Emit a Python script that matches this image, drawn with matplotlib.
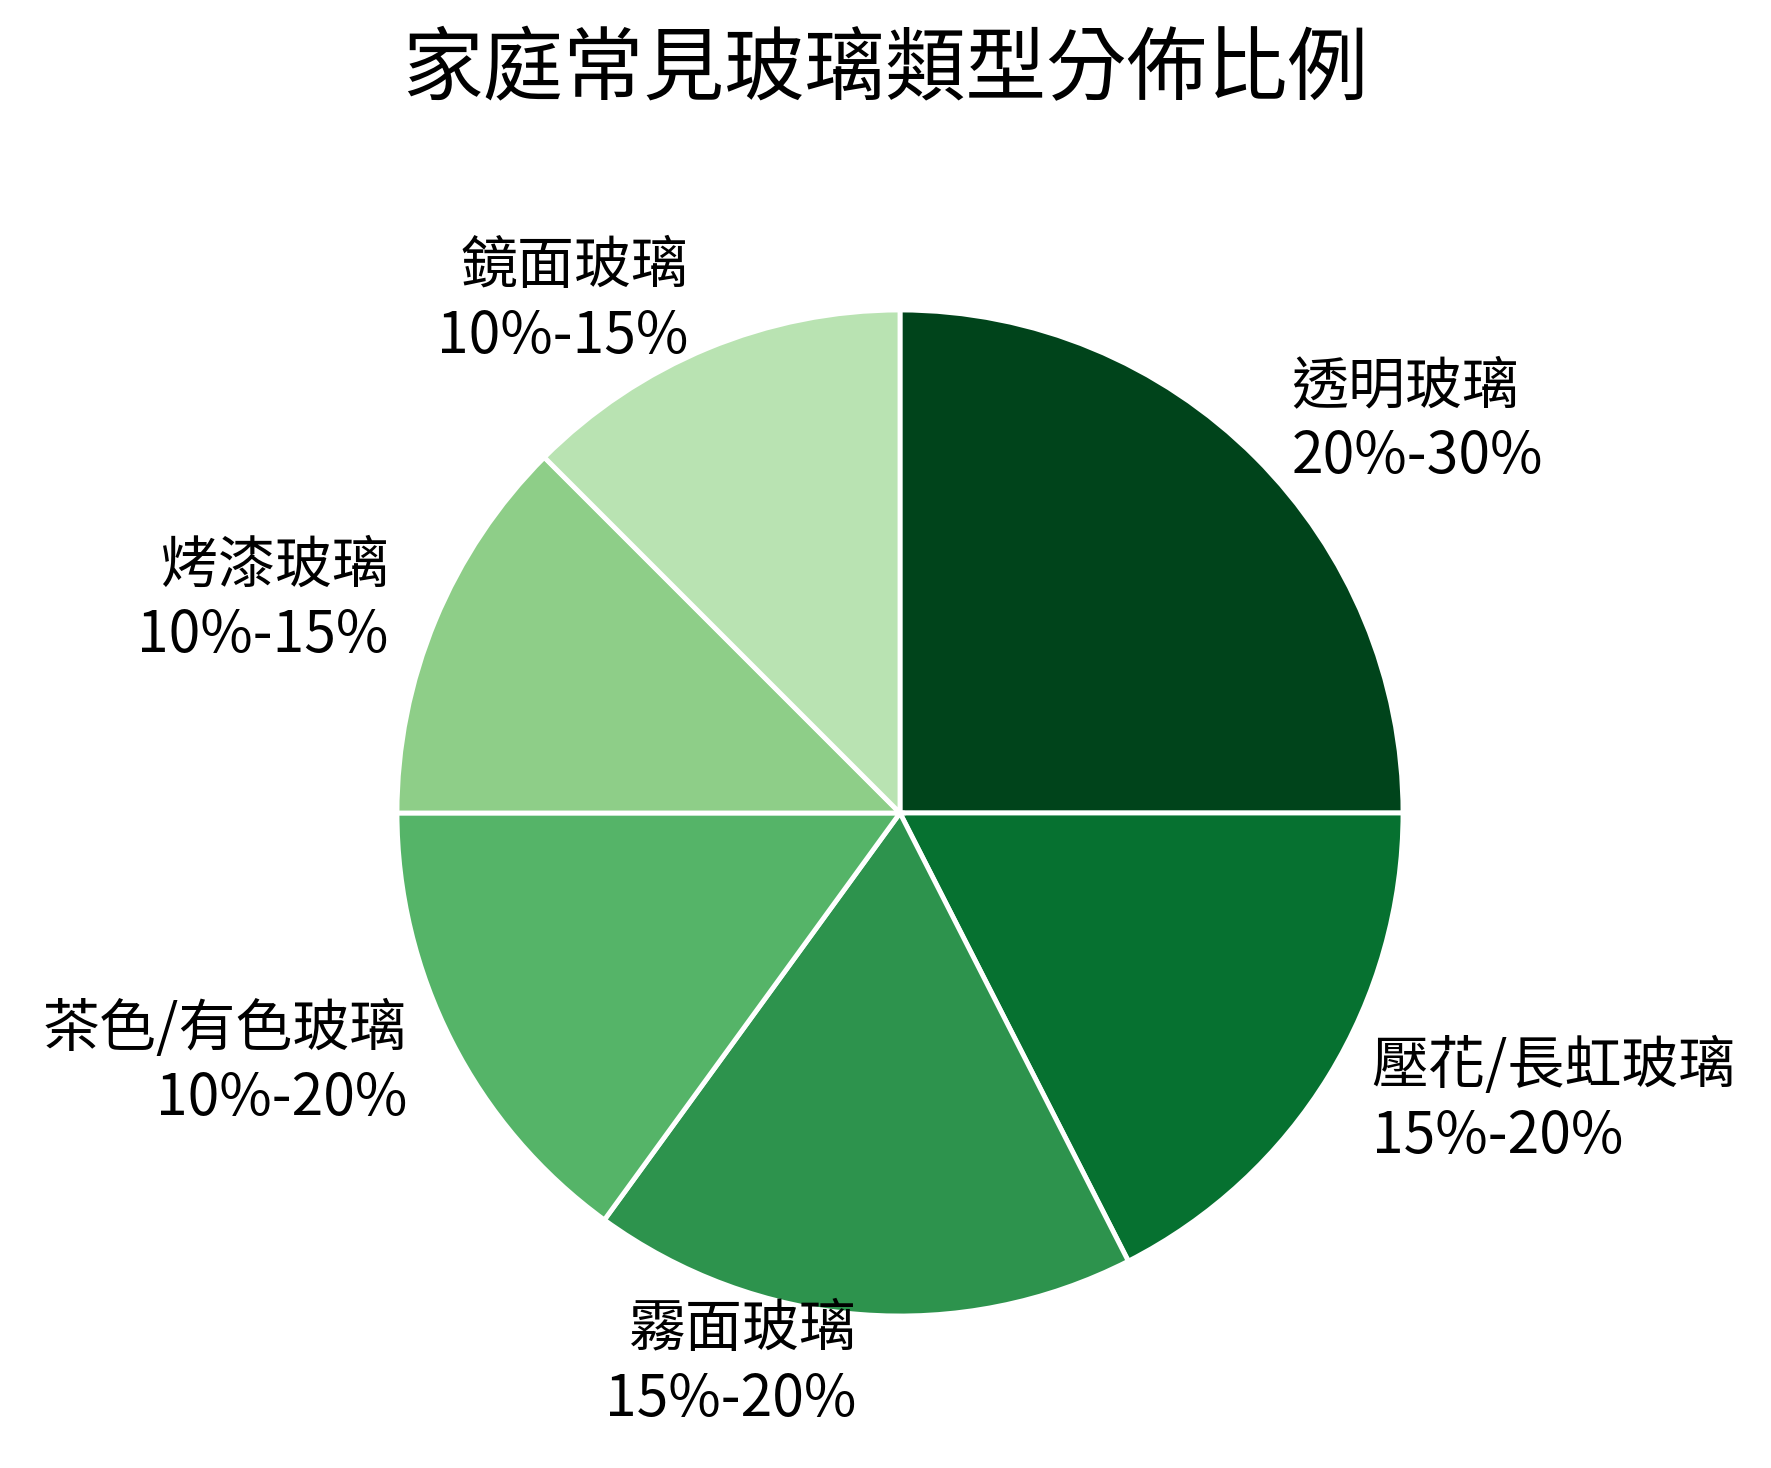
import matplotlib.pyplot as plt

plt.rcParams['font.family'] = ['Noto Sans CJK TC', 'DejaVu Sans']

categories = ["透明玻璃", "壓花/長虹玻璃", "霧面玻璃", "茶色/有色玻璃", "烤漆玻璃", "鏡面玻璃"]
ranges = ["20%-30%", "15%-20%", "15%-20%", "10%-20%", "10%-15%", "10%-15%"]
values = [25, 17.5, 17.5, 15, 12.5, 12.5]
colors = ["#00441b", "#067130", "#2d934d", "#55b468", "#8ece88", "#b9e3b2"]

W, H = 1771, 1468
fig = plt.figure(figsize=(W / 100, H / 100), dpi=100)
cx, cy, r = 900, 813, 503
ax = fig.add_axes([(cx - r) / W, (H - cy - r) / H, 2 * r / W, 2 * r / H])

labels = [f"{c}\n{rg}" for c, rg in zip(categories, ranges)]
wedges, texts = ax.pie(values, labels=labels, colors=colors, startangle=90,
                       counterclock=False, labeldistance=1.1,
                       wedgeprops=dict(edgecolor="white", linewidth=3.5),
                       textprops=dict(fontsize=41, linespacing=1.25))
ax.set_xlim(-1, 1)
ax.set_ylim(-1, 1)
ax.set_aspect("equal")
fig.text(0.5, 0.952, "家庭常見玻璃類型分佈比例", ha="center", va="center", fontsize=58)

fig.savefig("out.png", dpi=100)
